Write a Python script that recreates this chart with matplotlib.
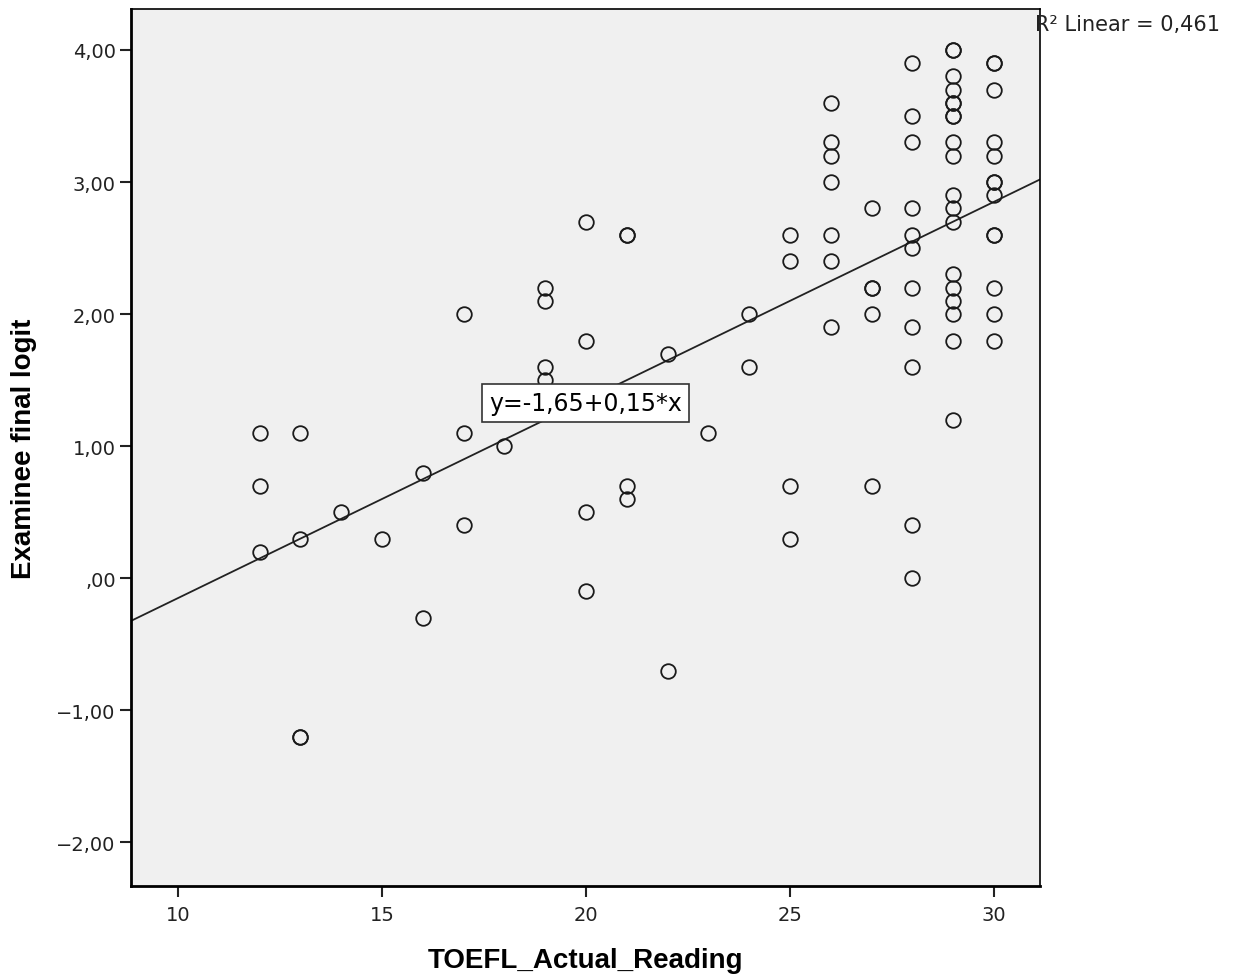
import matplotlib
matplotlib.use("Agg")
import matplotlib.pyplot as plt
from matplotlib.ticker import FuncFormatter

# TOEFL reading score vs. examinee final logit
reading = [12, 12, 12,
           13, 13, 13, 13,
           14, 15,
           16, 16,
           17, 17, 17,
           18,
           19, 19, 19, 19,
           20, 20, 20, 20,
           21, 21, 21, 21,
           22, 22,
           23,
           24, 24,
           25, 25, 25, 25,
           26, 26, 26, 26, 26, 26, 26,
           27, 27, 27, 27, 27,
           28, 28, 28, 28, 28, 28, 28, 28, 28, 28, 28,
           29, 29, 29, 29, 29, 29, 29, 29, 29, 29, 29, 29, 29, 29, 29, 29, 29, 29, 29,
           30, 30, 30, 30, 30, 30, 30, 30, 30, 30, 30, 30, 30]
logit = [1.1, 0.7, 0.2,
         1.1, 0.3, -1.2, -1.2,
         0.5, 0.3,
         0.8, -0.3,
         2.0, 1.1, 0.4,
         1.0,
         2.2, 2.1, 1.6, 1.5,
         2.7, 1.8, 0.5, -0.1,
         2.6, 2.6, 0.7, 0.6,
         1.7, -0.7,
         1.1,
         2.0, 1.6,
         2.6, 2.4, 0.7, 0.3,
         3.6, 3.3, 3.2, 3.0, 2.6, 2.4, 1.9,
         2.8, 2.2, 2.2, 2.0, 0.7,
         3.9, 3.5, 3.3, 2.8, 2.6, 2.5, 2.2, 1.9, 1.6, 0.4, 0.0,
         4.0, 4.0, 3.8, 3.7, 3.6, 3.6, 3.5, 3.5, 3.3, 3.2, 2.9, 2.8, 2.7, 2.3, 2.2, 2.1, 2.0, 1.8, 1.2,
         3.9, 3.9, 3.7, 3.3, 3.2, 3.0, 3.0, 2.9, 2.6, 2.6, 2.2, 2.0, 1.8]

intercept = -1.65
slope = 0.15
r_squared = 0.461

x_ticks = [10, 15, 20, 25, 30]
y_ticks = [-2, -1, 0, 1, 2, 3, 4]


def spss_fmt(v, pos):
    s = f"{v:.2f}".replace(".", ",")
    if s.startswith("0,"):
        s = s[1:]
    return s.replace("-", "\u2212")


fig = plt.figure(figsize=(12.42, 9.78), dpi=100)
ax = fig.add_axes([0.1055, 0.093, 0.7319, 0.8968])
ax.set_facecolor("#f0f0f0")

xmin, xmax = 8.85, 31.13
ax.set_xlim(xmin, xmax)
ax.set_ylim(-2.33, 4.31)

# fit line
ax.plot([xmin, xmax], [intercept + slope * xmin, intercept + slope * xmax],
        color="#222222", lw=1.3, zorder=2)

ax.plot(reading, logit, linestyle="none", marker="o", ms=10.5,
        mfc="none", mec="#1a1a1a", mew=1.3, zorder=3)

ax.text(20.0, 1.33, f"y={intercept:.2f}+{slope:.2f}*x".replace(".", ","),
        ha="center", va="center", fontsize=17, family="DejaVu Sans",
        bbox=dict(boxstyle="square,pad=0.3", fc="white", ec="#333333", lw=1.2),
        zorder=4)

fig.text(0.8335, 0.974, f"R² Linear = {r_squared:.3f}".replace(".", ","),
         ha="left", va="center", fontsize=15, color="#222222")

ax.set_xticks(x_ticks)
ax.set_yticks(y_ticks)
ax.yaxis.set_major_formatter(FuncFormatter(spss_fmt))
ax.tick_params(axis="both", direction="out", length=8, width=1.5,
               labelsize=14, colors="#222222")
ax.tick_params(axis="x", pad=6)
ax.tick_params(axis="y", pad=3)
for side in ["top", "right"]:
    ax.spines[side].set_linewidth(1.2)
for side in ["left", "bottom"]:
    ax.spines[side].set_linewidth(2)

ax.set_xlabel("TOEFL_Actual_Reading", fontsize=20, fontweight="bold",
              family="Liberation Sans", labelpad=16)
ax.set_ylabel("Examinee final logit", fontsize=20, fontweight="bold",
              family="Liberation Sans", labelpad=14)

fig.savefig("out.png", dpi=100)
